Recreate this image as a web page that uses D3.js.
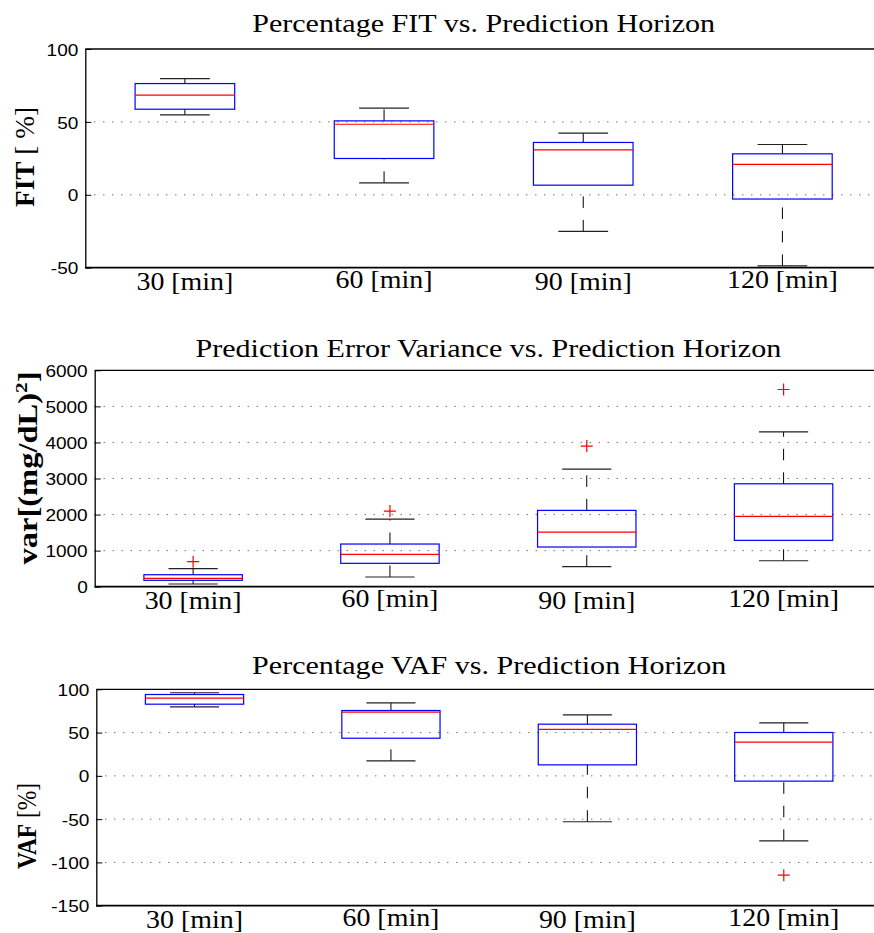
<!DOCTYPE html>
<meta charset="utf-8">
<head>
    <script src="https://d3js.org/d3.v7.min.js"></script>
    <style>
        body { margin: 0; background: #fff; }
        svg { display: block; }
    </style>
</head>
<body>
<div id="chart"></div>
<script>
    // categories (prediction horizons)
    var horizons = ["30 [min]", "60 [min]", "90 [min]", "120 [min]"];

    // Percentage FIT
    var fitLowWhisker = [54.8, 8.2, -25.1, -48.8];
    var fitQ1         = [58.7, 24.9, 6.6, -2.9];
    var fitMedian     = [68.3, 48.4, 30.8, 20.8];
    var fitQ3         = [76.3, 50.7, 35.9, 28.1];
    var fitHighWhisker= [79.7, 59.4, 42.3, 34.5];
    var fitOutliers   = [[], [], [], []];
    var fitTicks      = [-50, 0, 50, 100];

    // Prediction error variance
    var varLowWhisker = [75, 269, 554, 720];
    var varQ1         = [177, 648, 1100, 1285];
    var varMedian     = [233, 897, 1515, 1950];
    var varQ3         = [332, 1183, 2116, 2853];
    var varHighWhisker= [499, 1875, 3260, 4294];
    var varOutliers   = [[693], [2097], [3898], [5468]];
    var varTicks      = [0, 1000, 2000, 3000, 4000, 5000, 6000];

    // Percentage VAF
    var vafLowWhisker = [79.7, 17.3, -53, -75];
    var vafQ1         = [82.8, 43.5, 12.7, -6.1];
    var vafMedian     = [89.7, 73.6, 53.6, 38.9];
    var vafQ3         = [94, 75.5, 59.7, 50.1];
    var vafHighWhisker= [96, 84.3, 70.4, 61.2];
    var vafOutliers   = [[], [], [], [-114.7]];
    var vafTicks      = [-150, -100, -50, 0, 50, 100];

    var width = 874, height = 933, right = 882;

    var svg = d3.select("#chart").append("svg")
        .attr("width", width)
        .attr("height", height);
    svg.append("rect").attr("width", width).attr("height", height).attr("fill", "#fff");

    var panels = [
        {title: "Percentage FIT vs. Prediction Horizon", label: "fit",
         lo: fitLowWhisker, q1: fitQ1, med: fitMedian, q3: fitQ3, hi: fitHighWhisker, out: fitOutliers,
         ticks: fitTicks, left: 85.3, top: 49, bottom: 267.7, titleY: 32, labX: 34, labY: 157, labLen: 100},
        {title: "Prediction Error Variance vs. Prediction Horizon", label: "var",
         lo: varLowWhisker, q1: varQ1, med: varMedian, q3: varQ3, hi: varHighWhisker, out: varOutliers,
         ticks: varTicks, left: 94.7, top: 370.3, bottom: 586.7, titleY: 357, labX: 37, labY: 468, labLen: 193},
        {title: "Percentage VAF vs. Prediction Horizon", label: "vaf",
         lo: vafLowWhisker, q1: vafQ1, med: vafMedian, q3: vafQ3, hi: vafHighWhisker, out: vafOutliers,
         ticks: vafTicks, left: 96.3, top: 689.3, bottom: 905.7, titleY: 674, labX: 36, labY: 826, labLen: 86}
    ];

    panels.forEach(function(p) {
        var g = svg.append("g");

        var x = d3.scaleBand()
            .domain(horizons)
            .range([p.left, right])
            .padding(0);
        var bw = x.bandwidth();
        var cx = function(i) { return x(horizons[i]) + bw / 2; };

        var y = d3.scaleLinear()
            .domain(d3.extent(p.ticks))
            .range([p.bottom, p.top]);

        // dotted grid
        g.append("g").selectAll("line")
            .data(p.ticks.slice(1, -1))
            .join("line")
            .attr("x1", p.left).attr("x2", right)
            .attr("y1", function(d) { return y(d); })
            .attr("y2", function(d) { return y(d); })
            .attr("stroke", "#333")
            .attr("stroke-width", 1)
            .attr("stroke-dasharray", "1,8");

        // y axis, ticks pointing inward
        var yAxis = g.append("g")
            .attr("transform", "translate(" + p.left + ",0)")
            .call(d3.axisLeft(y).tickValues(p.ticks)
                .tickFormat(function(d) { return String(d); })
                .tickSizeInner(-6).tickSizeOuter(0).tickPadding(7));
        yAxis.select(".domain").attr("stroke", "#000").attr("stroke-width", 1.3);
        yAxis.selectAll(".tick line").attr("stroke", "#000");
        yAxis.selectAll(".tick text")
            .attr("x", -7 / 1.12)
            .attr("dy", "0.36em")
            .attr("transform", "scale(1.12,1)")
            .attr("font-family", "'Liberation Sans', Arial, sans-serif")
            .attr("font-size", 17)
            .attr("fill", "#000");

        // top and bottom borders
        g.append("line").attr("x1", p.left).attr("x2", right)
            .attr("y1", p.top).attr("y2", p.top)
            .attr("stroke", "#000").attr("stroke-width", 1.3);
        g.append("line").attr("x1", p.left).attr("x2", right)
            .attr("y1", p.bottom).attr("y2", p.bottom)
            .attr("stroke", "#000").attr("stroke-width", 1.8);

        var idx = d3.range(horizons.length);

        // whiskers (dashed)
        g.append("g").selectAll("path")
            .data(idx)
            .join("path")
            .attr("d", function(i) {
                return "M" + cx(i) + "," + y(p.lo[i]) + "V" + y(p.q1[i]) +
                       "M" + cx(i) + "," + y(p.q3[i]) + "V" + y(p.hi[i]);
            })
            .attr("fill", "none")
            .attr("stroke", "#000")
            .attr("stroke-width", 1)
            .attr("stroke-dasharray", "11.5,12");

        // whisker caps
        g.append("g").selectAll("path")
            .data(idx)
            .join("path")
            .attr("d", function(i) {
                return "M" + (cx(i) - bw / 8) + "," + y(p.lo[i]) + "H" + (cx(i) + bw / 8) +
                       "M" + (cx(i) - bw / 8) + "," + y(p.hi[i]) + "H" + (cx(i) + bw / 8);
            })
            .attr("fill", "none")
            .attr("stroke", "#222")
            .attr("stroke-width", 1.2);

        // boxes
        g.append("g").selectAll("rect")
            .data(idx)
            .join("rect")
            .attr("x", function(i) { return cx(i) - bw / 4; })
            .attr("width", bw / 2)
            .attr("y", function(i) { return y(p.q3[i]); })
            .attr("height", function(i) { return y(p.q1[i]) - y(p.q3[i]); })
            .attr("fill", "none")
            .attr("stroke", "#0000ff")
            .attr("stroke-width", 1.2);

        // medians
        g.append("g").selectAll("line")
            .data(idx)
            .join("line")
            .attr("x1", function(i) { return cx(i) - bw / 4; })
            .attr("x2", function(i) { return cx(i) + bw / 4; })
            .attr("y1", function(i) { return y(p.med[i]); })
            .attr("y2", function(i) { return y(p.med[i]); })
            .attr("stroke", "#ff0000")
            .attr("stroke-width", 1.2);

        // outliers as red plus signs
        var outs = [];
        p.out.forEach(function(arr, i) { arr.forEach(function(v) { outs.push({i: i, v: v}); }); });
        g.append("g").selectAll("path")
            .data(outs)
            .join("path")
            .attr("d", function(d) {
                var px = cx(d.i), py = y(d.v);
                return "M" + (px - 6) + "," + py + "H" + (px + 6) + "M" + px + "," + (py - 6) + "V" + (py + 6);
            })
            .attr("stroke", "#ff0000")
            .attr("stroke-width", 1.2)
            .attr("fill", "none");

        // category labels
        g.append("g").selectAll("text")
            .data(idx)
            .join("text")
            .attr("transform", function(i) {
                return "translate(" + cx(i) + "," + (p.bottom + 22.5 - (i % 2) * 2.5) + ") scale(1.14,1)";
            })
            .attr("text-anchor", "middle")
            .attr("font-family", "'Liberation Serif', 'Times New Roman', serif")
            .attr("font-size", 24.5)
            .text(function(i) { return horizons[i]; });

        // title
        g.append("text")
            .attr("transform", "translate(" + ((p.left + right) / 2) + "," + p.titleY + ") scale(1.18,1)")
            .attr("text-anchor", "middle")
            .attr("font-family", "'Liberation Serif', 'Times New Roman', serif")
            .attr("font-size", 25.5)
            .text(p.title);

        // y label (rotated, glyphs widened a little like the reference)
        var lab = g.append("text")
            .attr("transform", "translate(" + p.labX + "," + p.labY + ") rotate(-90) scale(1,1.15)")
            .attr("text-anchor", "middle")
            .attr("font-family", "'Liberation Serif', 'Times New Roman', serif")
            .attr("font-size", 23)
            .attr("textLength", p.labLen)
            .attr("lengthAdjust", "spacingAndGlyphs");
        if (p.label === "fit") {
            lab.append("tspan").attr("font-weight", "bold").text("FIT");
            lab.append("tspan").text(" [ %]");
        } else if (p.label === "vaf") {
            lab.append("tspan").attr("font-weight", "bold").text("VAF");
            lab.append("tspan").text(" [%]");
        } else {
            lab.attr("font-weight", "bold");
            lab.append("tspan").text("var[(mg/dL)");
            lab.append("tspan").attr("dy", -9).attr("font-size", 15).text("2");
            lab.append("tspan").attr("dy", 9).text("]");
        }
    });
</script>
</body>
